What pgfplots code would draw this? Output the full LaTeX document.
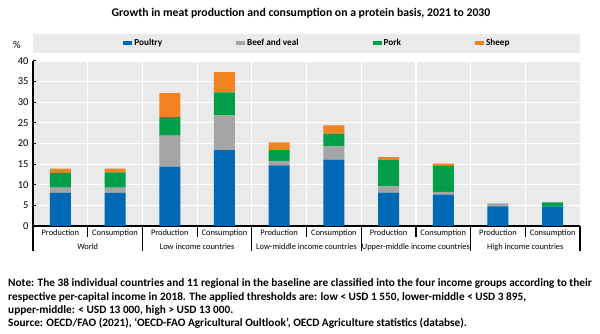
\documentclass[border=0pt]{standalone}
\usepackage{pgfplots}
\pgfplotsset{compat=1.18}
\usepackage{fontspec}
\setmainfont{Carlito}
\definecolor{cpoul}{HTML}{0068B4}
\definecolor{cbeef}{HTML}{A5A5A5}
\definecolor{cpork}{HTML}{009E49}
\definecolor{csheep}{HTML}{F58220}
\definecolor{bgc}{HTML}{EAEAEA}
\begin{document}
\begin{tikzpicture}[x=1pt,y=1pt]
\useasboundingbox (0,0) rectangle (600,334);
\node at (301,321) {\bfseries\fontsize{11.75}{13}\selectfont Growth in meat production and consumption on a protein basis, 2021 to 2030};
\begin{axis}[
  at={(33pt,108pt)}, anchor=south west,
  scale only axis, width=547pt, height=165pt,
  clip=false,
  ybar stacked, bar width=21pt,
  xmin=-0.5, xmax=9.5, ymin=0, ymax=40,
  ytick={0,5,...,40},
  xtick={0,...,9},
  xticklabels={Production,Consumption,Production,Consumption,Production,Consumption,Production,Consumption,Production,Consumption},
  minor xtick={0.5,1.5,...,8.5},
  xminorgrids=true, ymajorgrids=true,
  grid style={white, line width=1.2pt},
  minor grid style={white, line width=1.2pt},
  axis background/.style={fill=bgc},
  axis x line*=bottom, axis y line*=left,
  axis line style={black, line width=1.2pt, -},
  x axis line style={black, line width=1.5pt},
  major x tick style={draw=none}, minor x tick style={draw=none},
  major y tick style={black, line width=1pt},
  major tick length=3pt,
  ytick align=inside,
  /pgf/number format/assume math mode=true,
  yticklabel style={font=\fontsize{10.5}{12}\selectfont, xshift=-1pt},
  xticklabel style={font=\fontsize{8.4}{10}\selectfont, anchor=base, yshift=-10pt},
  legend columns=4,
  legend style={at={(0.52,1.109)}, anchor=center, draw=none, fill=none,
    font=\bfseries\fontsize{9.2}{11}\selectfont,
    /tikz/every even column/.append style={column sep=72pt}},
  legend image code/.code={\fill[#1] (0pt,-2.3pt) rectangle (9pt,2.3pt);},
]
\fill[bgc] (rel axis cs:0,1.05) rectangle (rel axis cs:1,1.164);
\node at (rel axis cs:0,1.097) [xshift=-16pt, font=\fontsize{10.5}{12}\selectfont] {\%};
\addplot[fill=cpoul, draw=none] coordinates {(0,8.0) (1,8.0) (2,14.4) (3,18.4) (4,14.7) (5,16.1) (6,8.1) (7,7.6) (8,4.75) (9,4.7)};
\addplot[fill=cbeef, draw=none] coordinates {(0,1.3) (1,1.3) (2,7.5) (3,8.4) (4,1.1) (5,3.2) (6,1.5) (7,0.7) (8,0.75) (9,0)};
\addplot[fill=cpork, draw=none] coordinates {(0,3.6) (1,3.7) (2,4.5) (3,5.6) (4,2.6) (5,3.1) (6,6.5) (7,6.3) (8,0) (9,1.0)};
\addplot[fill=csheep, draw=none] coordinates {(0,1.0) (1,0.9) (2,5.8) (3,4.9) (4,1.9) (5,2.0) (6,0.6) (7,0.5) (8,0) (9,0)};
\legend{Poultry,Beef and veal,Pork,Sheep}
% separators
\pgfplotsinvokeforeach{0.5,2.5,4.5,6.5,8.5}{\draw[black, line width=1.2pt] (axis cs:#1,0) -- ++(0pt,-11pt);}
\pgfplotsinvokeforeach{-0.5,1.5,3.5,5.5,7.5,9.5}{\draw[black, line width=1.2pt] (axis cs:#1,0) -- ++(0pt,-25pt);}
\node[anchor=base, font=\fontsize{8.4}{10}\selectfont] at (axis cs:0.5,0) [yshift=-24pt] {World};
\node[anchor=base, font=\fontsize{8.4}{10}\selectfont] at (axis cs:2.5,0) [yshift=-24pt] {Low income countries};
\node[anchor=base, font=\fontsize{8.4}{10}\selectfont] at (axis cs:4.5,0) [yshift=-24pt] {Low-middle income countries};
\node[anchor=base, font=\fontsize{8.4}{10}\selectfont] at (axis cs:6.5,0) [yshift=-24pt] {Upper-middle income countries};
\node[anchor=base, font=\fontsize{8.4}{10}\selectfont] at (axis cs:8.5,0) [yshift=-24pt] {High income countries};
\end{axis}
\node[anchor=base west, inner sep=0pt] at (8,47) {\bfseries\fontsize{11.3}{13}\selectfont Note: The 38 individual countries and 11 regional in the baseline are classified into the four income groups according to their};
\node[anchor=base west, inner sep=0pt] at (8,33.5) {\bfseries\fontsize{11.3}{13}\selectfont respective per-capital income in 2018. The applied thresholds are: low < USD 1 550, lower-middle < USD 3 895,};
\node[anchor=base west, inner sep=0pt] at (8,20) {\bfseries\fontsize{11.3}{13}\selectfont upper-middle: < USD 13 000, high > USD 13 000.};
\node[anchor=base west, inner sep=0pt] at (8,7) {\bfseries\fontsize{11.3}{13}\selectfont Source: OECD/FAO (2021), ‘OECD-FAO Agricultural Oultlook’, OECD Agriculture statistics (databse).};
\end{tikzpicture}
\end{document}
